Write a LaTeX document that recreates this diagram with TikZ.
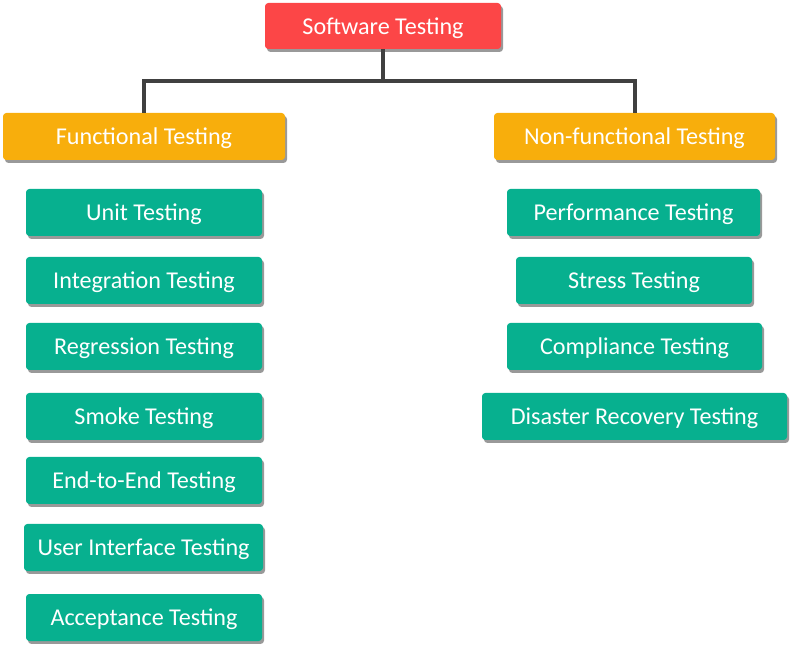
\documentclass[tikz,border=0pt]{standalone}
\usepackage{fontspec}
\setmainfont{Carlito}
\usepackage{xcolor}
\usetikzlibrary{shadows}
\definecolor{toprd}{HTML}{FC4647}
\definecolor{branchor}{HTML}{F8AE0C}
\definecolor{leafgr}{HTML}{07B08F}
\definecolor{linegr}{HTML}{404040}

\begin{document}
\begin{tikzpicture}[x=0.75pt, y=-0.75pt,
	tbox/.style={rounded corners=2.5pt, text=white, minimum height=35.25pt, inner sep=0pt,
		font=\fontsize{18.1}{21}\selectfont, text depth=0pt,
		drop shadow={shadow xshift=1.5pt, shadow yshift=-2.2pt, fill=black!40, opacity=1}},
	rootbox/.style={tbox, fill=toprd},
	branchbox/.style={tbox, fill=branchor},
	leafbox/.style={tbox, fill=leafgr}]

	\useasboundingbox (0,0) rectangle (793,648);

	% root and the two branches
	\node[rootbox, minimum width=177pt, minimum height=34.5pt] (soft) at (383,26) {Software Testing};
	\node[branchbox, minimum width=211.5pt] (func) at (144,136.5) {Functional Testing};
	\node[branchbox, minimum width=210.75pt] (nonf) at (634.5,136.5) {Non-functional Testing};

	% connector
	\coordinate (bar) at (383,81);
	\draw[linegr, line width=3pt] (soft.south) -- (bar);
	\draw[linegr, line width=3pt] (func.north) |- (bar) -| (nonf.north);

	% functional
	\node[leafbox, minimum width=177pt] (unit) at (144,212.5) {Unit Testing};
	\node[leafbox, minimum width=177pt] (integ) at (144,280.5) {Integration Testing};
	\node[leafbox, minimum width=177pt] (regr) at (144,346.5) {Regression Testing};
	\node[leafbox, minimum width=177pt] (smoke) at (144,416.5) {Smoke Testing};
	\node[leafbox, minimum width=177pt] (etoe) at (144,480.5) {End-to-End Testing};
	\node[leafbox, minimum width=179.25pt] (ui) at (143.5,547.5) {User Interface Testing};
	\node[leafbox, minimum width=177pt] (accept) at (144,617.5) {Acceptance Testing};

	% non-functional
	\node[leafbox, minimum width=189.75pt] (perf) at (633.5,212.5) {Performance Testing};
	\node[leafbox, minimum width=177pt] (stress) at (634,280.5) {Stress Testing};
	\node[leafbox, minimum width=191.25pt] (compl) at (634.5,346.5) {Compliance Testing};
	\node[leafbox, minimum width=228.75pt] (disast) at (634.5,416.5) {Disaster Recovery Testing};

\end{tikzpicture}
\end{document}
